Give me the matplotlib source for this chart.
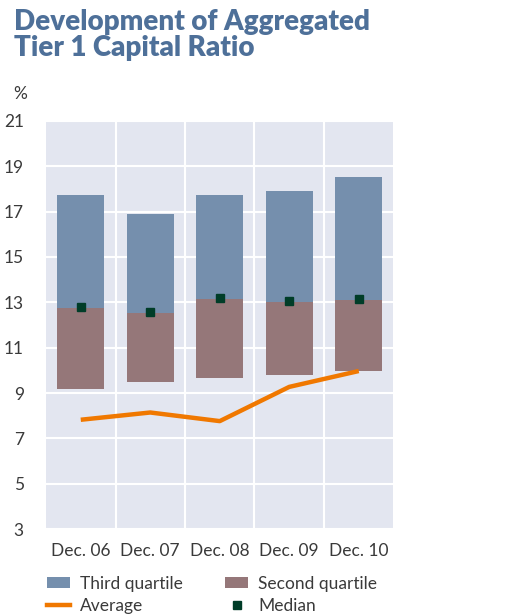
import matplotlib
matplotlib.use("Agg")
import matplotlib.pyplot as plt
from matplotlib.patches import Patch
from matplotlib.lines import Line2D

plt.rcParams['font.family'] = ['Lato', 'DejaVu Sans']

# data
periods = ['Dec. 06', 'Dec. 07', 'Dec. 08', 'Dec. 09', 'Dec. 10']
q1_low = [9.17, 9.50, 9.64, 9.78, 9.95]      # bottom of second quartile
q2_top = [12.73, 12.53, 13.15, 13.03, 13.10]  # top of second quartile
q3_top = [17.74, 16.90, 17.74, 17.91, 18.53]  # top of third quartile
median = [12.78, 12.56, 13.18, 13.04, 13.13]
average = [7.82, 8.14, 7.76, 9.27, 9.97]
yticks = [3, 5, 7, 9, 11, 13, 15, 17, 19, 21]

c_third = '#758fad'
c_second = '#957779'
c_median = '#003d28'
c_avg = '#f07800'
c_title = '#4e7099'
c_text = '#3a3a3a'

fig = plt.figure(figsize=(5.05, 6.16), dpi=100)
ax = fig.add_axes([0.0911, 0.1412, 0.6881, 0.6624])
ax.set_facecolor('#e3e6f0')

x = list(range(len(periods)))
second_h = [t - b for t, b in zip(q2_top, q1_low)]
third_h = [t - b for t, b in zip(q3_top, q2_top)]

ax.bar(x, second_h, bottom=q1_low, width=0.67, color=c_second, zorder=2)
ax.bar(x, third_h, bottom=q2_top, width=0.67, color=c_third, zorder=2)
ax.plot(x, average, color=c_avg, lw=3.2, zorder=3, solid_capstyle='butt')
ax.plot(x, median, ls='none', marker='s', ms=6.2, color=c_median, zorder=4)

ax.set_xlim(-0.5, 4.5)
ax.set_ylim(3, 21)
ax.set_yticks(yticks)
ax.set_xticks(x)
ax.set_xticklabels(periods)

for yv in yticks:
    ax.axhline(yv, color='white', lw=1.5, zorder=1)
for xv in [0.5, 1.5, 2.5, 3.5]:
    ax.axvline(xv, color='white', lw=1.5, zorder=1)

for s in ax.spines.values():
    s.set_visible(False)
ax.tick_params(axis='both', which='both', length=0, labelsize=12.5, colors=c_text)
ax.tick_params(axis='y', pad=16)
ax.tick_params(axis='x', pad=10)

fig.text(0.028, 0.985, 'Development of Aggregated\nTier 1 Capital Ratio',
         color=c_title, fontsize=20, fontweight='heavy', va='top', ha='left',
         linespacing=0.98)
fig.text(0.026, 0.848, '%', color=c_text, fontsize=12.5,
         va='center', ha='left')

handles = [
    Patch(facecolor=c_third, label='Third quartile'),
    Line2D([], [], color=c_avg, lw=3.2, label='Average'),
    Patch(facecolor=c_second, label='Second quartile'),
    Line2D([], [], ls='none', marker='s', ms=6, color=c_median, label='Median'),
]
leg = fig.legend(handles=handles,
                 ncol=2, loc='upper left', bbox_to_anchor=(0.093, 0.065),
                 frameon=False, fontsize=12.5, handlelength=1.35, handleheight=0.6,
                 handletextpad=0.57, columnspacing=2.4, labelspacing=0.35,
                 borderaxespad=0, borderpad=0)
for t in leg.get_texts():
    t.set_color(c_text)

fig.savefig('out.png', dpi=100)
